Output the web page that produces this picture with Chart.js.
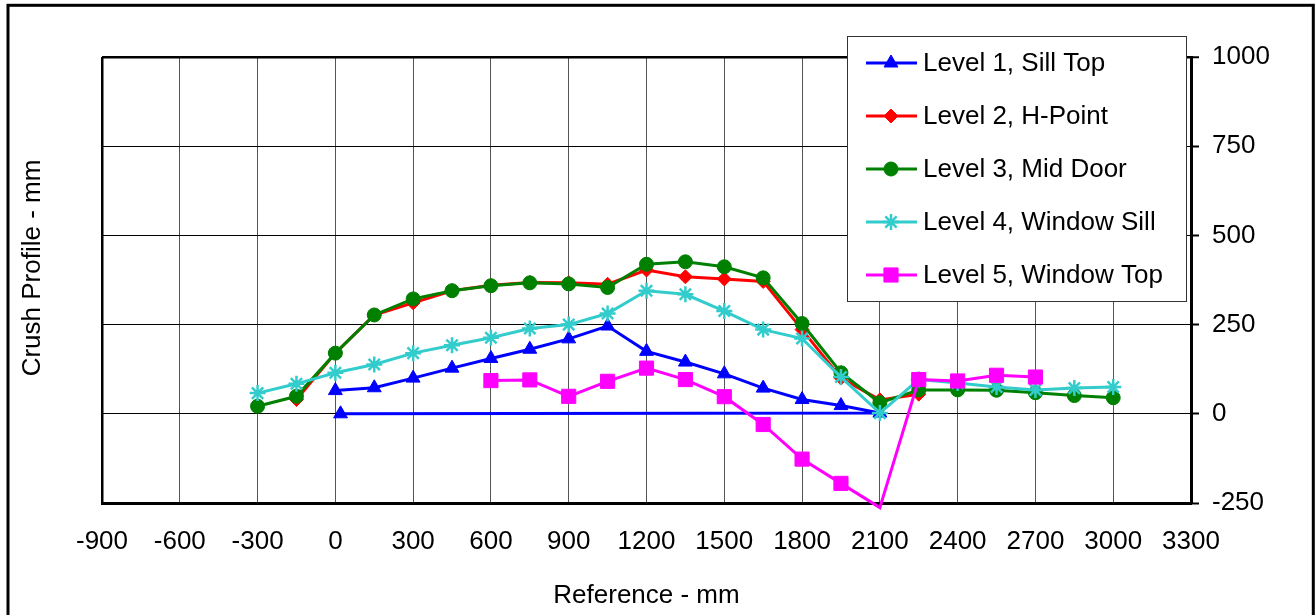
<!DOCTYPE html>
<html lang="en">
<head>
  <meta charset="UTF-8" />
  <title>Crush Profile</title>
  <script src="https://cdn.jsdelivr.net/npm/chart.js"></script>
  <style>
    html, body { margin: 0; padding: 0; background: #fff; overflow: hidden; }
    canvas { display: block; }
  </style>
</head>
<body>
  <canvas id="crushChart" width="1316" height="615"></canvas>

  <script>
    // x positions (mm) and crush values (mm) for each level
    const level1X = [0, 150, 300, 450, 600, 750, 900, 1050, 1200, 1350, 1500, 1650, 1800, 1950, 2100, 20];
    const level1Y = [65, 73, 100, 128, 155, 181, 210, 246, 175, 145, 112, 72, 40, 23, 2, 0];

    const level2X = [-150, 0, 150, 300, 450, 600, 750, 900, 1050, 1200, 1350, 1500, 1650, 1800, 1950, 2100, 2250];
    const level2Y = [40, 170, 277, 311, 345, 360, 368, 367, 363, 403, 384, 378, 371, 236, 100, 39, 55];

    const level3X = [-300, -150, 0, 150, 300, 450, 600, 750, 900, 1050, 1200, 1350, 1500, 1650, 1800, 1950, 2100, 2250, 2400, 2550, 2700, 2850, 3000];
    const level3Y = [21, 49, 170, 277, 322, 345, 359, 367, 364, 354, 419, 426, 412, 381, 253, 115, 31, 67, 67, 66, 59, 51, 45];

    const level4X = [-300, -150, 0, 150, 300, 450, 600, 750, 900, 1050, 1200, 1350, 1500, 1650, 1800, 1950, 2100, 2250, 2400, 2550, 2700, 2850, 3000];
    const level4Y = [58, 84, 115, 138, 170, 192, 213, 239, 250, 281, 345, 335, 288, 236, 211, 103, 2, 96, 86, 75, 67, 72, 75];

    const level5X = [600, 750, 900, 1050, 1200, 1350, 1500, 1650, 1800, 1950, 2100, 2250, 2400, 2550, 2700];
    const level5Y = [93, 95, 49, 91, 128, 96, 48, -30, -127, -195, -263, 96, 92, 108, 103];

    const seriesNames = ['Level 1, Sill Top', 'Level 2, H-Point', 'Level 3, Mid Door', 'Level 4, Window Sill', 'Level 5, Window Top'];
    const xAxisMin = -900, xAxisMax = 3300, xStep = 300;
    const yAxisMin = -250, yAxisMax = 1000, yStep = 250;

    const font = '"Liberation Sans", Arial, sans-serif';
    const fontSize = 26;
    Chart.defaults.font.family = font;
    Chart.defaults.font.size = fontSize;
    Chart.defaults.color = '#000';

    const styles = [
      { color: '#0000FF', point: 'triangle', radius: 8, bw: 1 },
      { color: '#FF0000', point: 'rectRot', radius: 7, bw: 1 },
      { color: '#008000', point: 'circle', radius: 7, bw: 1 },
      { color: '#33CCCC', point: 'star', radius: 8, bw: 2.5 },
      { color: '#FF00FF', point: 'rect', radius: 10, bw: 1 }
    ];

    const pairs = (xs, ys) => xs.map((x, i) => ({ x: x, y: ys[i] }));
    const allX = [level1X, level2X, level3X, level4X, level5X];
    const allY = [level1Y, level2Y, level3Y, level4Y, level5Y];

    const datasets = seriesNames.map((name, i) => ({
      label: name,
      data: pairs(allX[i], allY[i]),
      borderColor: styles[i].color,
      backgroundColor: styles[i].color,
      borderWidth: 3,
      tension: 0,
      pointStyle: styles[i].point,
      pointRadius: ctx => (ctx.raw && ctx.raw.y < yAxisMin) ? 0 : styles[i].radius,
      pointBackgroundColor: styles[i].color,
      pointBorderColor: styles[i].color,
      pointBorderWidth: styles[i].bw,
      order: 5 - i,
      clip: { left: 0, top: 0, right: 0, bottom: 8 }
    }));

    // Excel-style boxed legend inside the plot area
    const boxLegend = {
      id: 'boxLegend',
      afterDraw(chart) {
        const ctx = chart.ctx;
        const bx = 847.5, by = 36.5, bw = 339, bh = 265;
        ctx.save();
        ctx.fillStyle = '#fff';
        ctx.fillRect(bx, by, bw, bh);
        ctx.strokeStyle = '#333';
        ctx.lineWidth = 1;
        ctx.strokeRect(bx, by, bw, bh);
        const rowY = [63, 116, 169, 222, 275];
        seriesNames.forEach((name, i) => {
          const st = styles[i];
          const y = rowY[i];
          ctx.strokeStyle = st.color;
          ctx.fillStyle = st.color;
          ctx.lineWidth = 3;
          ctx.beginPath();
          ctx.moveTo(866, y);
          ctx.lineTo(917, y);
          ctx.stroke();
          ctx.lineWidth = st.bw;
          Chart.helpers.drawPoint(ctx, { pointStyle: st.point, radius: st.radius, rotation: 0, borderWidth: st.bw }, 891, y);
          ctx.fillStyle = '#000';
          ctx.font = fontSize + 'px ' + font;
          ctx.textBaseline = 'middle';
          ctx.textAlign = 'left';
          ctx.fillText(name, 923, y + 1);
        });
        ctx.restore();
      }
    };

    // left-hand axis title and outer frame
    const frameAndTitle = {
      id: 'frameAndTitle',
      afterDraw(chart) {
        const ctx = chart.ctx;
        ctx.save();
        ctx.translate(33, 268);
        ctx.rotate(-Math.PI / 2);
        ctx.font = fontSize + 'px ' + font;
        ctx.fillStyle = '#000';
        ctx.textAlign = 'center';
        ctx.textBaseline = 'middle';
        ctx.fillText('Crush Profile - mm', 0, 0);
        ctx.restore();
        ctx.save();
        ctx.strokeStyle = '#000';
        ctx.lineWidth = 3;
        ctx.strokeRect(8, 5.3, 1305.3, 700);
        ctx.restore();
      }
    };

    new Chart(document.getElementById('crushChart'), {
      type: 'line',
      data: { datasets: datasets },
      options: {
        responsive: false,
        animation: false,
        layout: { padding: { left: 102, top: 57, right: 0, bottom: 0 } },
        plugins: { legend: { display: false }, tooltip: { enabled: false } },
        scales: {
          x: {
            type: 'linear',
            min: xAxisMin,
            max: xAxisMax,
            afterFit: s => { s.height = 112; },
            ticks: { stepSize: xStep, padding: 23, autoSkip: false, maxRotation: 0, callback: v => String(v) },
            grid: {
              drawTicks: false,
              color: ctx => ctx.index === 0 ? '#000' : '#555',
              lineWidth: ctx => ctx.index === 0 ? 2.5 : 1
            },
            border: { color: '#000', width: 3 },
            title: { display: true, text: 'Reference - mm', padding: { top: 0, bottom: 4 } }
          },
          y: {
            position: 'right',
            min: yAxisMin,
            max: yAxisMax,
            afterFit: s => { s.width = 125; },
            ticks: { stepSize: yStep, padding: 13, callback: v => String(v) },
            grid: {
              color: '#000',
              lineWidth: ctx => (ctx.tick && ctx.tick.value === yAxisMax) ? 2.5 : 1,
              tickLength: 8,
              tickColor: '#000',
              tickWidth: 2
            },
            border: { color: '#000', width: 3 }
          }
        }
      },
      plugins: [boxLegend, frameAndTitle]
    });
  </script>
</body>
</html>
